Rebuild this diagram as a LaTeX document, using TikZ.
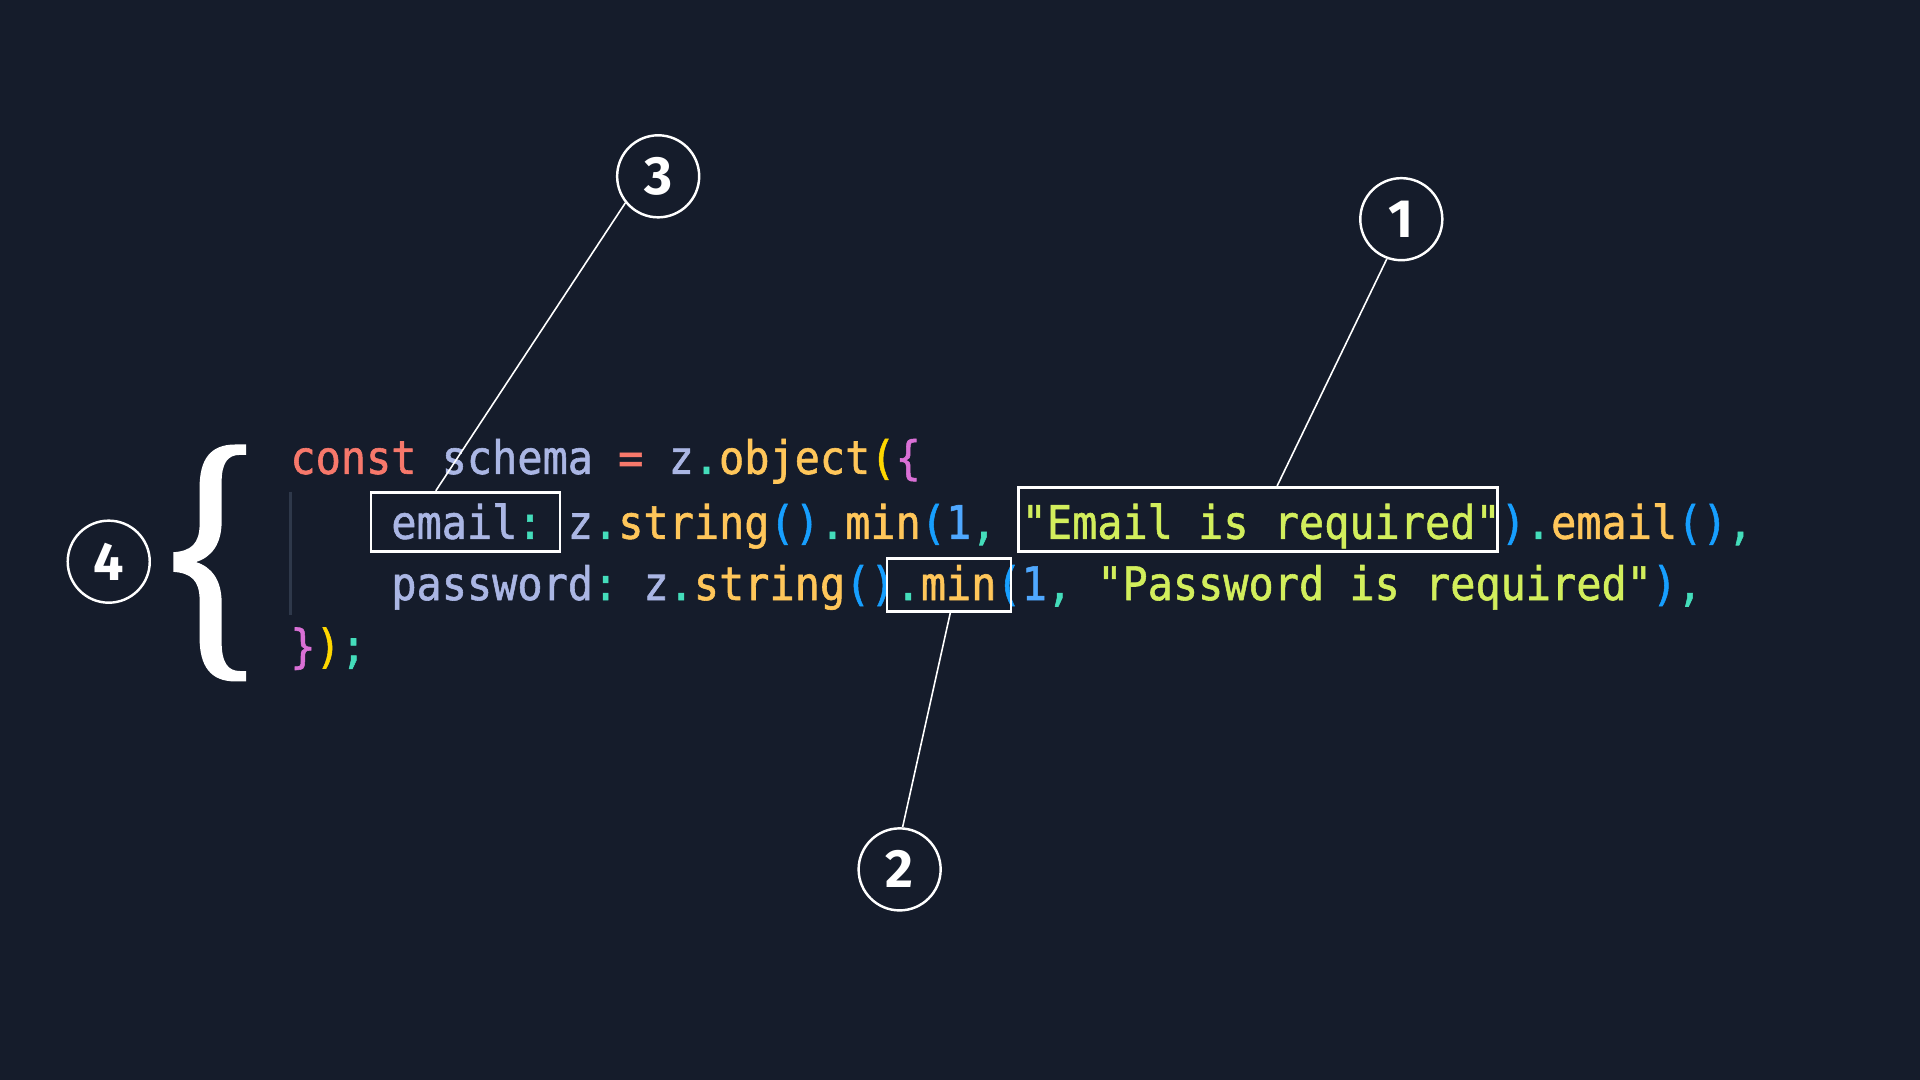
\documentclass[tikz,border=0pt]{standalone}
\usepackage{fontspec}
\newfontfamily\codefont{DejaVu Sans Mono}[FakeBold=1.3]
\newfontfamily\numfont{Fira Sans}
\usetikzlibrary{calc}
\definecolor{bg}{HTML}{151C2B}
\definecolor{kw}{HTML}{F7786B}
\definecolor{var}{HTML}{AAB6E4}
\definecolor{punc}{HTML}{44DDBB}
\definecolor{fn}{HTML}{FFC65A}
\definecolor{brA}{HTML}{FFD700}
\definecolor{brB}{HTML}{DA70D6}
\definecolor{brC}{HTML}{179FFF}
\definecolor{numcol}{HTML}{4FA8FF}
\definecolor{str}{HTML}{D2EE5C}
\definecolor{guide}{HTML}{2E384A}
\begin{document}
\begin{tikzpicture}[x=1pt,y=-1pt,
  numcirc/.style={circle, draw=white, line width=2pt, minimum size=67pt, inner sep=0pt, text=white,
    font=\numfont\bfseries\fontsize{44}{44}\selectfont},
  hl/.style={draw=white, line width=2.3pt, inner sep=0pt},
  codeline/.style={anchor=base west, inner sep=0pt,
    font={\codefont\fontsize{34.2}{34.2}\selectfont\spaceskip=20.59pt\relax\xspaceskip=20.59pt\relax}},
  lead/.style={draw=white, line width=1.3pt}]
\fill[bg] (0,0) rectangle (1568,882);
\useasboundingbox (0,0) rectangle (1568,882);

% indent guide
\draw[guide, line width=2pt] (237.4,401.5) -- (237.4,502.2);

% code
\node[codeline] (l1) at (237,387) {\scalebox{1}[1.1]{\textcolor{kw}{const} \textcolor{var}{schema} \textcolor{kw}{=} \textcolor{var}{z}\textcolor{punc}{.}\textcolor{fn}{object}\textcolor{brA}{(}\textcolor{brB}{\{}}};
\node[codeline] (l2) at (319.4,440) {\scalebox{1}[1.1]{\textcolor{var}{email}\textcolor{punc}{:} \textcolor{var}{z}\textcolor{punc}{.}\textcolor{fn}{string}\textcolor{brC}{()}\textcolor{punc}{.}\textcolor{fn}{min}\textcolor{brC}{(}\textcolor{numcol}{1}\textcolor{punc}{,} \textcolor{str}{"Email is required"}\textcolor{brC}{)}\textcolor{punc}{.}\textcolor{fn}{email}\textcolor{brC}{()}\textcolor{punc}{,}}};
\node[codeline] (l3) at (319.4,490) {\scalebox{1}[1.1]{\textcolor{var}{password}\textcolor{punc}{:} \textcolor{var}{z}\textcolor{punc}{.}\textcolor{fn}{string}\textcolor{brC}{()}\textcolor{punc}{.}\textcolor{fn}{min}\textcolor{brC}{(}\textcolor{numcol}{1}\textcolor{punc}{,} \textcolor{str}{"Password is required"}\textcolor{brC}{)}\textcolor{punc}{,}}};
\node[codeline] (l4) at (237,541) {\scalebox{1}[1.1]{\textcolor{brB}{\}}\textcolor{brA}{)}\textcolor{punc}{;}}};

% highlight boxes
\node[hl, minimum width=154.3pt, minimum height=48.5pt] (bEmail) at (380.15,426.25) {};
\node[hl, minimum width=391.5pt, minimum height=52.5pt] (bReq) at (1027.25,424.25) {};
\node[hl, minimum width=101.4pt, minimum height=43.5pt] (bMin) at (775,477.75) {};

\coordinate (p3) at ($(bEmail.north west)!0.345!(bEmail.north east)$);
\coordinate (p1) at ($(bReq.north west)!0.54!(bReq.north east)$);
\coordinate (p2) at ($(bMin.south west)!0.51!(bMin.south east)$);

% numbered circles
\node[numcirc] (c3) at (537.5,144) {3};
\node[numcirc] (c1) at (1144.4,179) {1};
\node[numcirc] (c2) at (734.7,710) {2};
\node[numcirc] (c4) at (88.8,458.7) {4};

% leader lines
\draw[lead] (c3.219) -- (p3);
\draw[lead] (c1.250) -- (p1);
\draw[lead] (c2.86) -- (p2);

% big brace
\fill[white] (201,363) -- (192,363) .. controls (172,363) and (163,375) .. (163,398)
  -- (163,428) .. controls (163,444) and (156,450) .. (141.5,451)
  -- (141.5,467) .. controls (156,468) and (163,474) .. (163,490)
  -- (163,521) .. controls (163,544) and (172,556.5) .. (192,556.5)
  -- (201,556.5) -- (201,548) -- (196,548) .. controls (186,548) and (181,541) .. (181,524)
  -- (181,492) .. controls (181,474) and (173,463) .. (160,459)
  .. controls (173,455) and (181,444) .. (181,426)
  -- (181,394) .. controls (181,378) and (186,371.5) .. (196,371.5)
  -- (201,371.5) -- cycle;
\end{tikzpicture}
\end{document}
